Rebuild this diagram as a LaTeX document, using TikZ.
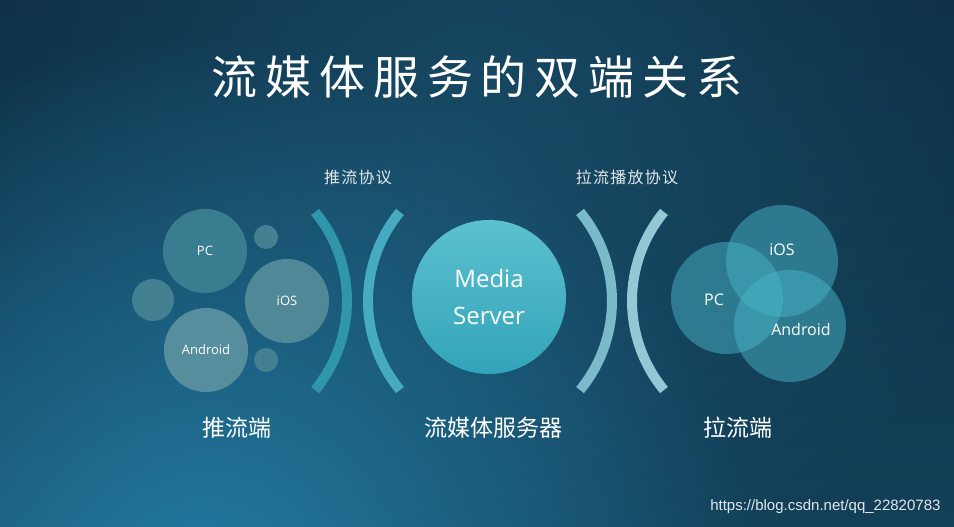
\documentclass[tikz,border=0pt]{standalone}
\usepackage{fontspec}
\setmainfont{Open Sans}
\newfontfamily\cjk{Noto Sans CJK SC}
\newfontfamily\cjkproto[LetterSpace=8]{Noto Sans CJK SC}
\newfontfamily\cjktitle[LetterSpace=17]{Noto Sans CJK SC}
\newfontfamily\urlfont{Liberation Sans}
\usepackage{xcolor}
\usetikzlibrary{fadings}
\definecolor{bgtop}{RGB}{14,48,70}
\definecolor{bgbot}{RGB}{18,64,88}
\definecolor{bgglow}{RGB}{36,124,164}
\definecolor{bgmid}{RGB}{30,90,120}
\definecolor{pushpccol}{RGB}{58,124,144}
\definecolor{pushioscol}{RGB}{80,136,152}
\definecolor{pushandcol}{RGB}{86,142,158}
\definecolor{pushdotcol}{RGB}{66,128,146}
\definecolor{arcone}{RGB}{48,150,172}
\definecolor{arctwo}{RGB}{70,170,192}
\definecolor{arcthree}{RGB}{122,186,202}
\definecolor{arcfour}{RGB}{148,200,212}
\definecolor{servertop}{RGB}{92,192,206}
\definecolor{serverbot}{RGB}{50,164,186}
\definecolor{pullcol}{RGB}{72,180,198}
\definecolor{labelgrey}{RGB}{225,232,236}
\tikzfading[name=glowfade, inner color=transparent!0, outer color=transparent!100]
\begin{document}
\begin{tikzpicture}[x=1pt, y=-1pt,
	bubble/.style={circle, inner sep=0pt, text=white, font=\fontsize{13}{15}\selectfont},
	pullbubble/.style={circle, inner sep=0pt, fill=pullcol, fill opacity=0.5, text opacity=1, text=white, minimum size=112pt},
	pulltext/.style={text=white, font=\fontsize{16}{18}\selectfont},
	protoarc/.style={line width=10pt, line cap=butt},
	sidelabel/.style={text=white, font=\cjk\fontsize{23}{26}\selectfont},
	protolabel/.style={text=labelgrey, font=\cjkproto\fontsize{16}{18}\selectfont}]
	\useasboundingbox (0,0) rectangle (954,527);
	% 背景
	\begin{scope}
		\clip (0,0) rectangle (954,527);
		\shade [top color=bgtop, bottom color=bgbot] (0,0) rectangle (954,527);
		\fill [bgmid, path fading=glowfade, opacity=0.6] (477,140) circle (520);
		\fill [bgglow, path fading=glowfade] (200,600) circle (560);
	\end{scope}
	% 标题
	\node (title) at (477,77) {\cjktitle\fontsize{46}{52}\selectfont\color{white}流媒体服务的双端关系};
	% 推流端
	\node [bubble, fill=pushpccol, minimum size=84pt] (pushpc) at (205,251) {PC};
	\node [bubble, fill=pushioscol, minimum size=84pt] (pushios) at (287,301) {iOS};
	\node [bubble, fill=pushandcol, minimum size=84pt] (pushandroid) at (206,350) {Android};
	\node [bubble, fill=pushdotcol, minimum size=42pt] (pushdotl) at (153,300) {};
	\node [bubble, fill=pushdotcol, minimum size=24pt] (pushdott) at (266,237) {};
	\node [bubble, fill=pushdotcol, minimum size=24pt] (pushdotb) at (266,360) {};
	% 协议弧线
	\draw [protoarc, arcone] (207,301) ++(-39.5:140) arc [start angle=-39.5, end angle=39.5, radius=140];
	\draw [protoarc, arctwo] (508,301) ++(140.5:140) arc [start angle=140.5, end angle=219.5, radius=140];
	\draw [protoarc, arcthree] (472,301) ++(-39.5:140) arc [start angle=-39.5, end angle=39.5, radius=140];
	\draw [protoarc, arcfour] (772,301) ++(140.5:140) arc [start angle=140.5, end angle=219.5, radius=140];
	\node [protolabel] (pushproto) at (358,177) {推流协议};
	\node [protolabel] (pullproto) at (627,177) {拉流播放协议};
	% 流媒体服务器
	\node [circle, inner sep=0pt, minimum size=154pt, top color=servertop, bottom color=serverbot,
		text=white, align=center, font=\fontsize{24}{37}\selectfont] (server) at (489,297) {Media\\Server};
	% 拉流端
	\node [pullbubble] (pullios) at (782,261) {};
	\node [pullbubble] (pullpc) at (727,298) {};
	\node [pullbubble] (pullandroid) at (790,326) {};
	\node [pulltext] (pulliostext) at (782,250) {iOS};
	\node [pulltext] (pullpctext) at (714,300) {PC};
	\node [pulltext] (pullandroidtext) at (801,329) {Android};
	% 底部标签
	\node [sidelabel] (pushside) at (237,428) {推流端};
	\node [sidelabel] (serverside) at (493,428) {流媒体服务器};
	\node [sidelabel] (pullside) at (738,428) {拉流端};
	% 水印
	\node [text=labelgrey, font=\urlfont\fontsize{15}{17}\selectfont, anchor=east] (mark) at (944,507) {https://blog.csdn.net/qq\_22820783};
\end{tikzpicture}
\end{document}
